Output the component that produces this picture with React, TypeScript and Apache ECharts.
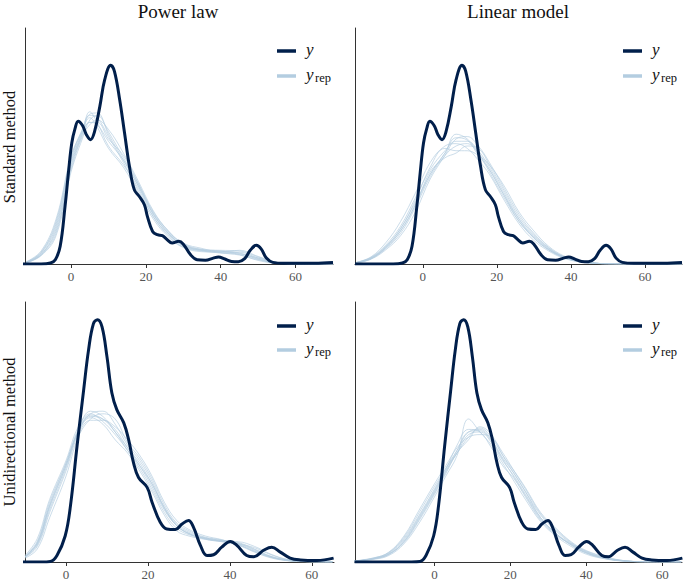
import React, { useEffect, useRef } from "react";
import * as echarts from "echarts";

const COLS = ["Power law", "Linear model"];
const ROWS = ["Standard method", "Unidirectional method"];
const X_TICKS = [0, 20, 40, 60];

// Observed density (normalised height), standard method
const OBS_STANDARD: [number, number][] = [
  [-18.3, 0], [-8, 0], [-5.5, 0.004], [-4.2, 0.018], [-2.9, 0.075], [-1.6, 0.244], [-0.7, 0.386],
  [0.2, 0.513], [1.1, 0.576], [1.9, 0.605], [3.1, 0.586], [4.1, 0.548], [5.2, 0.527], [6.3, 0.562],
  [7.7, 0.668], [9, 0.781], [10.6, 0.842], [11.6, 0.816], [13, 0.696], [14.3, 0.555], [15.6, 0.414],
  [16.9, 0.315], [18.2, 0.287], [19.6, 0.251], [20.4, 0.202], [21.8, 0.138], [23.1, 0.124],
  [24.4, 0.12], [25.7, 0.103], [27, 0.089], [28.8, 0.096], [30.1, 0.082], [31.9, 0.04], [33.7, 0.018],
  [35.9, 0.016], [38, 0.025], [39.4, 0.03], [41.1, 0.021], [42.9, 0.011], [44.7, 0.01], [46.4, 0.023],
  [47.9, 0.058], [49.5, 0.079], [50.8, 0.064], [52.2, 0.025], [53.9, 0.007], [57, 0.003], [65, 0.003],
  [70, 0.006],
];

// Observed density, unidirectional method
const OBS_UNIDIR: [number, number][] = [
  [-21, 0], [-6, 0], [-3.8, 0.002], [-2.2, 0.025], [-0.2, 0.1], [1.1, 0.217], [2.7, 0.446], [4.3, 0.66],
  [5.5, 0.815], [6.7, 0.917], [7.7, 0.932], [8.8, 0.904], [10, 0.79], [11.2, 0.65], [12.4, 0.586],
  [14.1, 0.535], [15.3, 0.47], [16.5, 0.38], [17.7, 0.325], [19.8, 0.287], [21, 0.23], [23, 0.153],
  [24.6, 0.127], [26.7, 0.125], [28.3, 0.146], [29.9, 0.16], [31.1, 0.134], [32.8, 0.064],
  [34.4, 0.025], [36, 0.028], [38, 0.057], [40.1, 0.079], [41.7, 0.064], [44.1, 0.025], [45.8, 0.02],
  [48.2, 0.045], [50.2, 0.057], [52.3, 0.038], [54.7, 0.015], [57.2, 0.008], [61.2, 0.006], [65.3, 0.015],
];

// Replicated densities: power law, standard method
const REP1_X = [-12, -8, -4, 0, 3, 5, 7, 10, 14, 18, 22, 26, 30, 35, 40, 45, 50, 55, 60, 70];
const REP1: number[][] = [
  [0.006, 0.04, 0.15, 0.42, 0.55, 0.6, 0.59, 0.52, 0.44, 0.33, 0.21, 0.13, 0.078, 0.058, 0.052, 0.045, 0.02, 0.004, 0.001, 0],
  [0.008, 0.05, 0.18, 0.45, 0.57, 0.63, 0.62, 0.54, 0.43, 0.31, 0.2, 0.12, 0.072, 0.055, 0.05, 0.05, 0.025, 0.005, 0.001, 0],
  [0.005, 0.035, 0.12, 0.39, 0.53, 0.61, 0.63, 0.56, 0.45, 0.34, 0.22, 0.14, 0.085, 0.062, 0.055, 0.04, 0.015, 0.003, 0.001, 0],
  [0.007, 0.045, 0.16, 0.43, 0.56, 0.645, 0.6, 0.5, 0.42, 0.32, 0.2, 0.125, 0.08, 0.06, 0.058, 0.055, 0.03, 0.006, 0.001, 0],
  [0.006, 0.04, 0.14, 0.4, 0.54, 0.59, 0.61, 0.57, 0.47, 0.35, 0.225, 0.14, 0.088, 0.066, 0.048, 0.038, 0.018, 0.004, 0.001, 0],
  [0.009, 0.055, 0.19, 0.455, 0.565, 0.62, 0.58, 0.49, 0.41, 0.3, 0.19, 0.115, 0.07, 0.052, 0.05, 0.058, 0.032, 0.007, 0.001, 0],
  [0.005, 0.038, 0.13, 0.41, 0.55, 0.635, 0.64, 0.55, 0.44, 0.33, 0.21, 0.13, 0.076, 0.057, 0.054, 0.047, 0.022, 0.004, 0.001, 0],
  [0.007, 0.048, 0.17, 0.44, 0.56, 0.6, 0.6, 0.53, 0.46, 0.34, 0.215, 0.135, 0.082, 0.06, 0.046, 0.042, 0.026, 0.006, 0.001, 0],
];

// Replicated densities: linear model, standard method
const REP2_X = [-18, -14, -10, -6, -2, 2, 6, 9, 12, 15, 18, 22, 26, 30, 34, 38, 42, 46, 50, 60, 70];
const REP2: number[][] = [
  [0.005, 0.022, 0.065, 0.13, 0.24, 0.37, 0.46, 0.5, 0.51, 0.47, 0.4, 0.29, 0.19, 0.12, 0.065, 0.03, 0.012, 0.004, 0.001, 0, 0],
  [0.006, 0.028, 0.08, 0.16, 0.28, 0.4, 0.48, 0.52, 0.52, 0.48, 0.41, 0.3, 0.19, 0.11, 0.06, 0.028, 0.01, 0.003, 0.001, 0, 0],
  [0.004, 0.02, 0.06, 0.12, 0.22, 0.36, 0.46, 0.53, 0.54, 0.5, 0.43, 0.32, 0.21, 0.13, 0.07, 0.032, 0.013, 0.004, 0.001, 0, 0],
  [0.007, 0.03, 0.09, 0.18, 0.3, 0.43, 0.5, 0.51, 0.49, 0.44, 0.38, 0.27, 0.17, 0.1, 0.055, 0.025, 0.01, 0.003, 0.001, 0, 0],
  [0.005, 0.024, 0.07, 0.14, 0.25, 0.38, 0.47, 0.55, 0.53, 0.47, 0.39, 0.28, 0.18, 0.11, 0.06, 0.03, 0.011, 0.004, 0.001, 0, 0],
  [0.006, 0.026, 0.075, 0.15, 0.27, 0.41, 0.49, 0.48, 0.48, 0.46, 0.42, 0.33, 0.22, 0.14, 0.075, 0.035, 0.015, 0.005, 0.001, 0, 0],
  [0.005, 0.022, 0.068, 0.14, 0.25, 0.39, 0.45, 0.47, 0.5, 0.49, 0.42, 0.31, 0.2, 0.125, 0.068, 0.03, 0.012, 0.004, 0.001, 0, 0],
  [0.006, 0.025, 0.072, 0.15, 0.26, 0.38, 0.47, 0.535, 0.525, 0.46, 0.4, 0.29, 0.18, 0.115, 0.062, 0.028, 0.011, 0.004, 0.001, 0, 0],
];

// Replicated densities: power law, unidirectional method
const REP3_X = [-10, -7, -4, 0, 3, 6, 9, 12, 15, 18, 21, 24, 27, 30, 34, 38, 42, 46, 50, 54, 58, 65];
const REP3: number[][] = [
  [0.02, 0.07, 0.21, 0.37, 0.5, 0.56, 0.55, 0.51, 0.44, 0.38, 0.3, 0.21, 0.14, 0.11, 0.09, 0.08, 0.07, 0.045, 0.02, 0.007, 0.002, 0],
  [0.025, 0.09, 0.24, 0.39, 0.52, 0.57, 0.54, 0.49, 0.43, 0.36, 0.28, 0.19, 0.13, 0.105, 0.092, 0.082, 0.075, 0.05, 0.022, 0.008, 0.002, 0],
  [0.015, 0.05, 0.17, 0.33, 0.48, 0.55, 0.57, 0.55, 0.46, 0.4, 0.32, 0.22, 0.15, 0.12, 0.095, 0.085, 0.068, 0.04, 0.018, 0.006, 0.002, 0],
  [0.02, 0.075, 0.22, 0.38, 0.51, 0.58, 0.56, 0.5, 0.44, 0.37, 0.29, 0.2, 0.14, 0.11, 0.088, 0.078, 0.07, 0.055, 0.028, 0.009, 0.002, 0],
  [0.018, 0.06, 0.19, 0.35, 0.49, 0.545, 0.545, 0.52, 0.47, 0.41, 0.33, 0.23, 0.16, 0.125, 0.1, 0.086, 0.065, 0.038, 0.016, 0.005, 0.001, 0],
  [0.022, 0.08, 0.23, 0.38, 0.5, 0.555, 0.53, 0.47, 0.42, 0.35, 0.27, 0.18, 0.12, 0.1, 0.087, 0.08, 0.078, 0.06, 0.03, 0.01, 0.002, 0],
  [0.019, 0.065, 0.2, 0.36, 0.5, 0.57, 0.58, 0.53, 0.45, 0.39, 0.31, 0.21, 0.145, 0.115, 0.093, 0.083, 0.072, 0.048, 0.021, 0.007, 0.002, 0],
  [0.021, 0.072, 0.215, 0.37, 0.505, 0.565, 0.55, 0.5, 0.43, 0.37, 0.3, 0.205, 0.14, 0.108, 0.09, 0.079, 0.066, 0.042, 0.019, 0.006, 0.001, 0],
];

// Replicated densities: linear model, unidirectional method
const REP4_X = [-21, -16, -12, -8, -4, 0, 3, 6, 9, 12, 15, 18, 21, 24, 28, 32, 36, 40, 45, 50, 55, 65];
const REP4: number[][] = [
  [0.003, 0.013, 0.03, 0.08, 0.17, 0.27, 0.35, 0.42, 0.49, 0.5, 0.46, 0.39, 0.33, 0.26, 0.17, 0.11, 0.07, 0.038, 0.015, 0.004, 0.001, 0],
  [0.003, 0.014, 0.035, 0.09, 0.18, 0.28, 0.36, 0.43, 0.5, 0.51, 0.47, 0.4, 0.34, 0.27, 0.17, 0.11, 0.065, 0.035, 0.014, 0.004, 0.001, 0],
  [0.002, 0.01, 0.025, 0.07, 0.15, 0.25, 0.33, 0.41, 0.55, 0.5, 0.45, 0.38, 0.31, 0.24, 0.155, 0.1, 0.06, 0.03, 0.012, 0.003, 0.001, 0],
  [0.004, 0.015, 0.038, 0.1, 0.2, 0.3, 0.37, 0.44, 0.48, 0.49, 0.48, 0.42, 0.35, 0.28, 0.185, 0.125, 0.075, 0.04, 0.016, 0.005, 0.001, 0],
  [0.003, 0.012, 0.03, 0.075, 0.16, 0.26, 0.34, 0.42, 0.47, 0.52, 0.49, 0.41, 0.34, 0.27, 0.18, 0.12, 0.072, 0.042, 0.018, 0.005, 0.001, 0],
  [0.003, 0.013, 0.032, 0.085, 0.175, 0.275, 0.355, 0.45, 0.51, 0.5, 0.44, 0.37, 0.32, 0.25, 0.16, 0.105, 0.068, 0.036, 0.014, 0.004, 0.001, 0],
  [0.004, 0.016, 0.036, 0.095, 0.19, 0.29, 0.36, 0.42, 0.48, 0.515, 0.48, 0.41, 0.35, 0.285, 0.19, 0.13, 0.078, 0.044, 0.02, 0.005, 0.001, 0],
  [0.003, 0.012, 0.028, 0.078, 0.165, 0.265, 0.345, 0.43, 0.5, 0.505, 0.465, 0.395, 0.325, 0.255, 0.165, 0.108, 0.066, 0.034, 0.013, 0.004, 0.001, 0],
];

const X_RANGES: [number, number][] = [[-12.3, 70], [-18.3, 70], [-10, 65.4], [-20.9, 65.2]];

const DARK = "#011f4b";
const LIGHT = "#b3cde0";
const FONT = "Liberation Serif";

export default function App() {
  const ref = useRef<HTMLDivElement>(null);
  useEffect(() => {
    if (!ref.current) return;
    const chart = echarts.init(ref.current, undefined, { renderer: "svg" });
    const grids = [
      { left: 25, top: 28, width: 308, height: 236 },
      { left: 355, top: 28, width: 327, height: 236 },
      { left: 25, top: 302, width: 309, height: 261 },
      { left: 355, top: 302, width: 327, height: 261 },
    ];
    const reps = [
      { xs: REP1_X, ys: REP1 },
      { xs: REP2_X, ys: REP2 },
      { xs: REP3_X, ys: REP3 },
      { xs: REP4_X, ys: REP4 },
    ];
    const obs = [OBS_STANDARD, OBS_STANDARD, OBS_UNIDIR, OBS_UNIDIR];

    const series: any[] = [];
    reps.forEach((r, p) => {
      r.ys.forEach((ys) => {
        series.push({
          type: "line",
          name: "y_rep",
          xAxisIndex: p,
          yAxisIndex: p,
          data: r.xs.map((x, i) => [x, ys[i]]),
          showSymbol: false,
          smooth: 0.4,
          silent: true,
          lineStyle: { color: LIGHT, width: 0.8, opacity: 0.85 },
          z: 2,
        });
      });
      series.push({
        type: "line",
        name: "y",
        xAxisIndex: p,
        yAxisIndex: p,
        data: obs[p],
        showSymbol: false,
        smooth: 0.4,
        silent: true,
        lineStyle: { color: DARK, width: 3 },
        z: 3,
      });
    });

    const xAxis = grids.map((_, p) => ({
      type: "value",
      gridIndex: p,
      min: X_RANGES[p][0],
      max: X_RANGES[p][1],
      splitLine: { show: false },
      axisLine: { show: true, onZero: false, lineStyle: { color: "#333", width: 1 } },
      axisTick: { show: true, customValues: X_TICKS, length: 4, lineStyle: { color: "#333" } },
      axisLabel: {
        customValues: X_TICKS,
        color: "#555",
        fontSize: 13,
        fontFamily: FONT,
        margin: 6,
      },
    }));
    const yAxis = grids.map((_, p) => ({
      type: "value",
      gridIndex: p,
      min: 0,
      max: 1,
      splitLine: { show: false },
      axisLine: { show: true, onZero: false, lineStyle: { color: "#333", width: 1 } },
      axisTick: { show: false },
      axisLabel: { show: false },
    }));

    const legendPos = [
      { x: 277, y1: 51, y2: 76 },
      { x: 623, y1: 51, y2: 76 },
      { x: 277, y1: 326, y2: 350 },
      { x: 623, y1: 326, y2: 350 },
    ];
    const graphic: any[] = [];
    legendPos.forEach((l) => {
      graphic.push({
        type: "line",
        shape: { x1: l.x, y1: l.y1, x2: l.x + 19, y2: l.y1 },
        style: { stroke: DARK, lineWidth: 3.5 },
      });
      graphic.push({
        type: "line",
        shape: { x1: l.x, y1: l.y2, x2: l.x + 19, y2: l.y2 },
        style: { stroke: LIGHT, lineWidth: 3.5 },
      });
      [l.y1, l.y2].forEach((yy) => {
        graphic.push({
          type: "text",
          x: l.x + 29,
          y: yy - 2,
          style: {
            text: "y",
            fontStyle: "italic",
            fontSize: 17,
            fontFamily: FONT,
            fill: "#111",
            verticalAlign: "middle",
          },
        });
      });
      graphic.push({
        type: "text",
        x: l.x + 38,
        y: l.y2 + 2,
        style: {
          text: "rep",
          fontSize: 12.5,
          fontFamily: FONT,
          fill: "#111",
          verticalAlign: "middle",
        },
      });
    });
    COLS.forEach((t, i) => {
      graphic.push({
        type: "text",
        x: i === 0 ? 178 : 518,
        y: 11,
        style: {
          text: t,
          fontSize: 19,
          fontFamily: FONT,
          fill: "#111",
          align: "center",
          verticalAlign: "middle",
        },
      });
    });
    ROWS.forEach((t, i) => {
      graphic.push({
        type: "text",
        x: 9,
        y: i === 0 ? 147 : 432,
        rotation: Math.PI / 2,
        style: {
          text: t,
          fontSize: 16.5,
          fontFamily: FONT,
          fill: "#111",
          align: "center",
          verticalAlign: "middle",
        },
      });
    });

    chart.setOption({
      animation: false,
      backgroundColor: "#fff",
      grid: grids,
      xAxis,
      yAxis,
      series,
      graphic,
    });
    return () => chart.dispose();
  }, []);
  return (
    <div
      ref={ref}
      style={{ position: "fixed", left: 0, top: 0, width: 685, height: 581, background: "#fff" }}
    />
  );
}
